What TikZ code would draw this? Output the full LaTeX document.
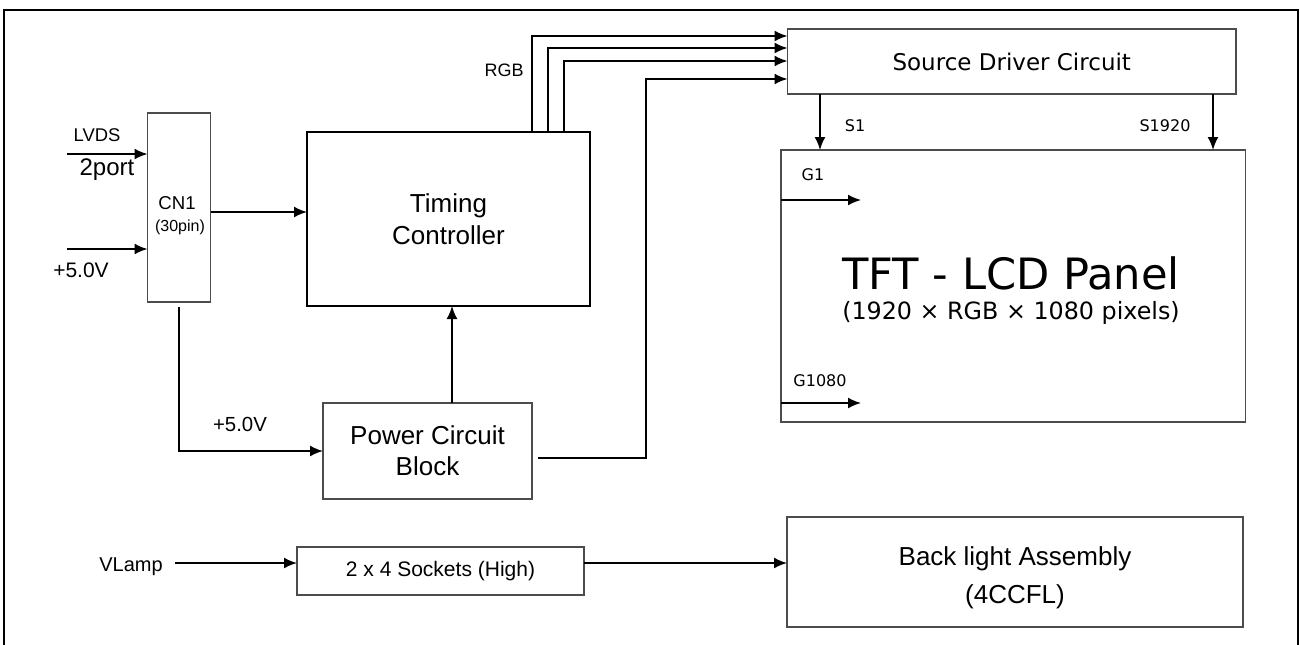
\documentclass[tikz,border=0pt]{standalone}
\usepackage{fontspec}
\setmainfont{Liberation Sans}
\newfontfamily\tahoma{DejaVu Sans}
\usetikzlibrary{arrows.meta}

\tikzset{
  blk/.style={draw=black!70, line width=0.6pt, inner sep=0pt, outer sep=0pt, align=center},
  arr/.style={-{Latex[length=6.5pt,width=5.5pt]}, line width=0.9pt},
  sig/.style={font=\tahoma\fontsize{8}{10}\selectfont},
}

\begin{document}
\begin{tikzpicture}[x=0.5pt,y=-0.5pt]
    \useasboundingbox (0,0) rectangle (1300,644);
    \clip (0,0) rectangle (1300,644);
    % outer frame, open at the bottom
    \draw[line width=1pt] (3.5,660) -- (3.5,9.5) -- (1298,9.5) -- (1298,660);

    % blocks
    \node[blk, minimum width=31.5pt, minimum height=94.5pt] (cn1) at (179,207.5) {};
    \node[blk, draw=black, line width=1pt, minimum width=141.5pt, minimum height=87pt,
          font=\fontsize{13}{16}\selectfont] (tcon) at (448.5,219) {Timing\\Controller};
    \node[blk, minimum width=104.5pt, minimum height=48pt,
          font=\fontsize{13}{15.5}\selectfont] (pcb) at (427.5,451) {Power Circuit\\Block};
    \node[blk, minimum width=224.25pt, minimum height=32.5pt,
          font=\tahoma\fontsize{11.5}{14}\selectfont] (src) at (1011.75,61.5) {Source Driver Circuit};
    \node[blk, minimum width=232.25pt, minimum height=136pt] (tft) at (1013.25,286) {};
    \node[blk, minimum width=143.5pt, minimum height=24pt,
          font=\fontsize{10.5}{12}\selectfont] (sock) at (440.5,571) {2 x 4 Sockets (High)};
    \node[blk, minimum width=228pt, minimum height=55pt,
          font=\fontsize{13}{19}\selectfont] (bla) at (1015,572) {\rule{0pt}{15pt}Back light Assembly\\(4CCFL)};

    % texts
    \node[font=\fontsize{9.2}{11}\selectfont] (lvds) at (97,135) {LVDS};
    \node[font=\fontsize{12}{14}\selectfont] (port) at (107,170) {2port};
    \node[font=\fontsize{10.5}{12}\selectfont] (vin) at (81,270) {+5.0V};
    \node[font=\fontsize{9.3}{11}\selectfont] (cn1name) at (177,203) {CN1};
    \node[font=\fontsize{8}{10}\selectfont] (cn1pin) at (180,227) {(30pin)};
    \node[font=\fontsize{9}{11}\selectfont] (rgb) at (504,70) {RGB};
    \node[font=\fontsize{10.2}{12}\selectfont] (vpcb) at (240,424) {+5.0V};
    \node[font=\fontsize{10}{12}\selectfont] (vlamp) at (131,567) {VLamp};
    \node[sig] (s1) at (855,126) {S1};
    \node[sig] (s1920) at (1165,126) {S1920};
    \node[sig] (g1) at (813,175) {G1};
    \node[sig] (g1080) at (820,381) {G1080};
    \node[font=\tahoma\fontsize{21.6}{26}\selectfont] (tfttitle) at (1011,273) {TFT - LCD Panel};
    \node[font=\tahoma\fontsize{11.9}{14}\selectfont] (tftsub) at (1011,313) {(1920 × RGB × 1080 pixels)};

    % inputs
    \coordinate (lvdsin) at (67,154);
    \coordinate (vccin) at (67,249);
    \coordinate (cnout) at (211,212);
    \coordinate (pwrout) at (538,458);
    \coordinate (lampin) at (175,563);
    \draw[arr] (lvdsin) -- (lvdsin -| cn1.west);
    \draw[arr] (vccin) -- (vccin -| cn1.west);
    \draw[arr] (cnout -| cn1.east) -- (cnout -| tcon.west);

    % RGB bus to source driver
    \foreach \bx/\by in {532/36,548/48,564/61}
        \draw[arr] (tcon.north -| \bx,0) |- (src.west |- 0,\by);
    \draw[arr] (pwrout) -| (646,79) -- (src.west |- 0,79);

    % power
    \draw[arr] (pcb.north -| 452,0) -- (tcon.south -| 452,0);
    \draw[arr] ([yshift=-2.5pt]cn1.south) |- (pcb.west);

    % source and gate lines
    \draw[arr] ([xshift=16.25pt]src.south west) -- ([xshift=16.25pt]src.south west |- tft.north);
    \draw[arr] ([xshift=-11.5pt]src.south east) -- ([xshift=-11.5pt]src.south east |- tft.north);
    \draw[arr] ([yshift=-25pt]tft.north west) -- ++(40pt,0);
    \draw[arr] ([yshift=9.5pt]tft.south west) -- ++(40pt,0);

    % lamp
    \draw[arr] (lampin) -- (lampin -| sock.west);
    \draw[arr] (lampin -| sock.east) -- (lampin -| bla.west);
\end{tikzpicture}
\end{document}
